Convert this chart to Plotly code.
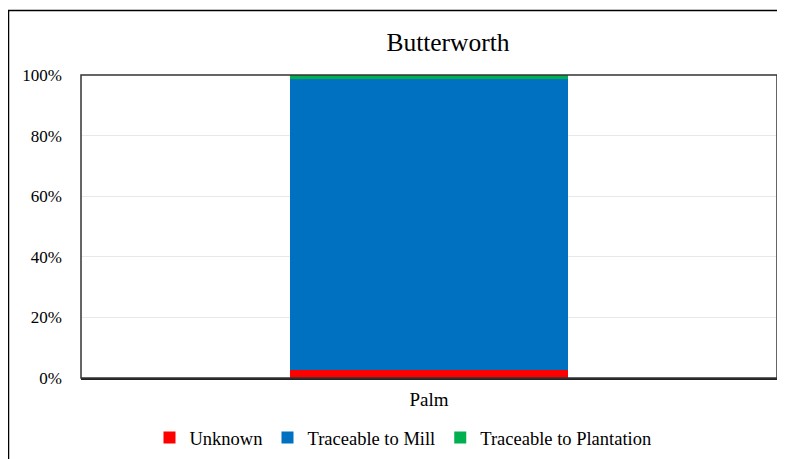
import plotly.graph_objects as go

categories = ["Palm"]
series_names = ["Unknown", "Traceable to Mill", "Traceable to Plantation"]
unknown = [2.8]
mill = [95.8]
plantation = [1.4]
colors = ["#FF0000", "#0070C0", "#00B050"]
y_ticks = [0, 20, 40, 60, 80, 100]
y_tick_labels = ["0%", "20%", "40%", "60%", "80%", "100%"]

OFF = 8  # page body margin offset
SW, SH = 785, 459  # screen size
W, H = SW - OFF, SH - OFF  # figure fits inside the window without scrollbars
# target screen pixel positions of the plot area
sl, st, sr, sb = 81, 75, 777, 378
ml, mt = sl - OFF, st - OFF
mr, mb = W - (sr - OFF), H - (sb - OFF)
pw, ph = W - ml - mr, H - mt - mb

fig = go.Figure()
for name, vals, col in zip(series_names, [unknown, mill, plantation], colors):
    fig.add_trace(go.Bar(x=categories, y=vals, name=name, marker_color=col,
                         marker_line_width=0))

def px_x(p):
    return (p - OFF - ml) / pw

def px_y(p):
    return 1 - (p - OFF - mt) / ph

fig.update_layout(
    width=W, height=H,
    margin=dict(l=ml, r=mr, t=mt, b=mb, autoexpand=False),
    barmode="stack",
    bargap=0.6,
    plot_bgcolor="white",
    paper_bgcolor="white",
    font=dict(family="Liberation Serif", size=17, color="black"),
    title=dict(text="Butterworth", x=(448 - OFF) / W, xref="container",
               xanchor="center", y=1 - (42 - OFF) / H, yref="container", yanchor="middle",
               font=dict(size=25.5, family="Liberation Serif")),
    xaxis=dict(showgrid=False, showline=True, linecolor="#222", linewidth=2,
               mirror=False, ticks="", tickfont=dict(size=19), automargin=False,
               ticklabelstandoff=3),
    yaxis=dict(range=[0, 100], tickvals=y_ticks, ticktext=y_tick_labels,
               showgrid=True, gridcolor="#E8E8E8", gridwidth=1,
               showline=False, zeroline=False, ticks="", ticklen=0,
               ticklabelstandoff=18, automargin=False,
               tickfont=dict(size=17)),
    legend=dict(orientation="h", x=(403 - OFF) / W, xref="container", xanchor="center",
                y=1 - (438 - OFF) / H, yref="container",
                yanchor="middle", font=dict(size=18.5), traceorder="normal",
                itemwidth=30),
    showlegend=True,
)

# plot area box
fig.add_shape(type="rect", xref="paper", yref="paper", x0=0, x1=1, y0=0, y1=1,
              line=dict(color="#333", width=1.5), layer="above")
# outer chart border
fig.add_shape(type="rect", xref="paper", yref="paper",
              x0=px_x(8.5), x1=px_x(800), y0=px_y(480), y1=px_y(10.5),
              line=dict(color="black", width=1.5), layer="above")

fig.write_html("out.html")
